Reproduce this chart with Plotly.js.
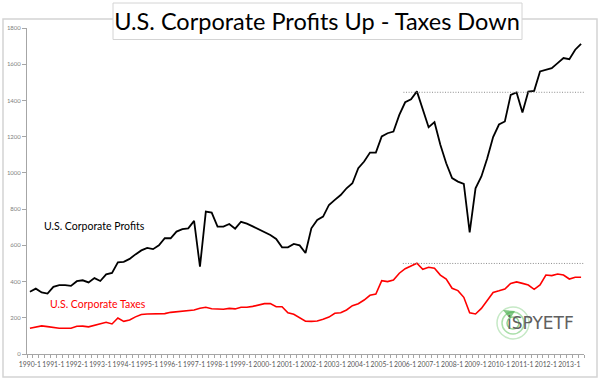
<!DOCTYPE html>
<html>
<head>
<meta charset="utf-8">
<script src="https://cdn.plot.ly/plotly-3.0.1.min.js"></script>
<style>
  html, body { margin: 0; padding: 0; background: #ffffff; }
  #chart { width: 600px; height: 378px; }
</style>
</head>
<body>
<div id="chart"></div>
<script>
// Quarterly categories, 1990 Q1 .. 2013 Q3
const categories = [
  '1990-1','1990-2','1990-3','1990-4','1991-1','1991-2','1991-3','1991-4',
  '1992-1','1992-2','1992-3','1992-4','1993-1','1993-2','1993-3','1993-4',
  '1994-1','1994-2','1994-3','1994-4','1995-1','1995-2','1995-3','1995-4',
  '1996-1','1996-2','1996-3','1996-4','1997-1','1997-2','1997-3','1997-4',
  '1998-1','1998-2','1998-3','1998-4','1999-1','1999-2','1999-3','1999-4',
  '2000-1','2000-2','2000-3','2000-4','2001-1','2001-2','2001-3','2001-4',
  '2002-1','2002-2','2002-3','2002-4','2003-1','2003-2','2003-3','2003-4',
  '2004-1','2004-2','2004-3','2004-4','2005-1','2005-2','2005-3','2005-4',
  '2006-1','2006-2','2006-3','2006-4','2007-1','2007-2','2007-3','2007-4',
  '2008-1','2008-2','2008-3','2008-4','2009-1','2009-2','2009-3','2009-4',
  '2010-1','2010-2','2010-3','2010-4','2011-1','2011-2','2011-3','2011-4',
  '2012-1','2012-2','2012-3','2012-4','2013-1','2013-2','2013-3'
];

// U.S. corporate profits
const profits = [
  344, 361, 340, 334, 371, 380, 380, 376,
  402, 407, 395, 419, 403, 440, 448, 506,
  509, 525, 550, 572, 586, 579, 600, 639,
  639, 676, 689, 694, 735, 482, 786, 781,
  703, 703, 718, 692, 730, 720, 705, 690,
  673, 657, 635, 589, 589, 608, 600, 558,
  694, 740, 759, 823, 851, 878, 915, 943,
  1026, 1063, 1112, 1112, 1201, 1219, 1228, 1320,
  1390, 1407, 1450, 1357, 1252, 1280, 1155, 1053,
  971, 952, 939, 672, 915, 980, 1081, 1198,
  1267, 1284, 1431, 1444, 1333, 1449, 1453, 1560,
  1569, 1578, 1606, 1634, 1628, 1680, 1713
];

// U.S. corporate taxes
const taxes = [
  142, 148, 155, 151, 145, 142, 142, 142,
  153, 154, 150, 159, 166, 175, 166, 199,
  180, 188, 205, 218, 221, 221, 225, 223,
  230, 234, 236, 238, 243, 253, 258, 250,
  247, 247, 252, 249, 258, 258, 263, 269,
  278, 278, 261, 261, 228, 219, 201, 181,
  180, 182, 192, 204, 225, 228, 243, 267,
  278, 298, 324, 331, 405, 400, 409, 446,
  471, 486, 501, 468, 479, 473, 436, 414,
  363, 350, 313, 228, 221, 252, 298, 340,
  349, 359, 390, 398, 390, 381, 357, 381,
  436, 433, 442, 436, 414, 424, 424
];

const tickLabels = [
  '1990-1','1991-1','1992-1','1993-1','1994-1','1995-1','1996-1','1997-1',
  '1998-1','1999-1','2000-1','2001-1','2002-1','2003-1','2004-1','2005-1',
  '2006-1','2007-1','2008-1','2009-1','2010-1','2011-1','2012-1','2013-1'
];

const yTicks = [0, 200, 400, 600, 800, 1000, 1200, 1400, 1600, 1800];

// Prior-peak reference levels (dotted lines)
const peakLevels = [1445, 500];

const titleText = 'U.S. Corporate Profits Up - Taxes Down';
const seriesNames = ['U.S. Corporate Profits', 'U.S. Corporate Taxes'];

const traces = [
  { x: categories, y: profits, type: 'scatter', mode: 'lines', name: seriesNames[0],
    line: { color: '#000000', width: 1.8 }, hoverinfo: 'x+y' },
  { x: categories, y: taxes, type: 'scatter', mode: 'lines', name: seriesNames[1],
    line: { color: '#ff0000', width: 1.6 }, hoverinfo: 'x+y' }
];

// plot area geometry helpers (pixels -> paper)
const W = 600, H = 378;
const M = { l: 27, r: 16, t: 28, b: 24 };
const pw = W - M.l - M.r, ph = H - M.t - M.b;
const px = (x) => (x - M.l) / pw;
const py = (y) => (H - M.b - y) / ph;

const shapes = [
  // outer chart border
  { type: 'rect', xref: 'paper', yref: 'paper', layer: 'below',
    x0: px(3), x1: px(597), y0: py(377), y1: py(19),
    line: { color: '#d4d4d4', width: 1.5 }, fillcolor: 'rgba(0,0,0,0)' },
  // title box
  { type: 'rect', xref: 'paper', yref: 'paper', layer: 'below',
    x0: px(113), x1: px(522), y0: py(39.5), y1: py(3),
    line: { color: '#d4d4d4', width: 1 }, fillcolor: '#ffffff' },
  // dotted prior-peak lines
  { type: 'line', xref: 'x', yref: 'y', x0: 63.7, x1: 94.8, y0: peakLevels[0], y1: peakLevels[0],
    line: { color: '#8c8c8c', width: 1, dash: '1px,1.6px' } },
  { type: 'line', xref: 'x', yref: 'y', x0: 63.6, x1: 94.4, y0: peakLevels[1], y1: peakLevels[1],
    line: { color: '#8c8c8c', width: 1, dash: '1px,1.6px' } }
];

// logo rings
const logoX = px(513), logoY = py(323);
[16, 11, 6].forEach((r, k) => {
  shapes.push({ type: 'circle', xref: 'paper', yref: 'paper',
    xsizemode: 'pixel', ysizemode: 'pixel', xanchor: logoX, yanchor: logoY,
    x0: -r, x1: r, y0: -r, y1: r,
    line: { color: ['#c6e9c6', '#aadfaa', '#93d493'][k], width: 1.5 },
    fillcolor: 'rgba(0,0,0,0)' });
});
shapes.push({ type: 'path', xref: 'paper', yref: 'paper',
  xsizemode: 'pixel', ysizemode: 'pixel', xanchor: logoX, yanchor: logoY,
  path: 'M -10,13 L 2,12 L -3,4 Z', fillcolor: '#4caf50', opacity: 0.7,
  line: { width: 0 } });

const layout = {
  width: W, height: H, autosize: false,
  margin: { l: M.l, r: M.r, t: M.t, b: M.b, pad: 0 },
  paper_bgcolor: '#ffffff', plot_bgcolor: 'rgba(0,0,0,0)',
  showlegend: false,
  title: { text: titleText, xref: 'paper', x: px(317), xanchor: 'center',
    yref: 'container', y: 1 - 21.5 / H, yanchor: 'middle',
    font: { family: 'Lato', size: 23.5, color: '#000000' } },
  xaxis: {
    type: 'category', range: [-0.5, categories.length - 0.5],
    tickmode: 'array', tickvals: categories,
    ticktext: categories.map(c => tickLabels.includes(c) ? c : ''),
    tickson: 'boundaries', ticks: 'outside', ticklen: 3, tickcolor: '#a6a6a6',
    ticklabelstandoff: 4,
    showline: true, linecolor: '#a6a6a6', linewidth: 1,
    showgrid: false, zeroline: false, tickangle: 0,
    tickfont: { family: 'Lato', size: 6.8, color: '#595959' }, fixedrange: true
  },
  yaxis: {
    range: [0, 1800], tickmode: 'array', tickvals: yTicks,
    ticks: 'outside', ticklen: 4, tickcolor: '#a6a6a6',
    showline: true, linecolor: '#a6a6a6', linewidth: 1,
    showgrid: false, zeroline: false,
    tickfont: { family: 'Lato', size: 6, color: '#7f7f7f' }, fixedrange: true
  },
  shapes: shapes,
  annotations: [
    { text: seriesNames[0], xref: 'paper', yref: 'paper', x: px(41.5), y: py(226),
      xanchor: 'left', yanchor: 'middle', showarrow: false,
      font: { family: 'Lato', size: 10.5, color: '#000000' } },
    { text: seriesNames[1], xref: 'paper', yref: 'paper', x: px(48), y: py(303.5),
      xanchor: 'left', yanchor: 'middle', showarrow: false,
      font: { family: 'Lato', size: 10.5, color: '#ff0000' } },
    { text: 'iSPYETF', xref: 'paper', yref: 'paper', x: px(505), y: py(323),
      xanchor: 'left', yanchor: 'middle', showarrow: false,
      font: { family: 'DejaVu Sans', size: 17, color: '#606060' } }
  ]
};

Plotly.newPlot('chart', traces, layout, { displayModeBar: false, staticPlot: true });
</script>
</body>
</html>
